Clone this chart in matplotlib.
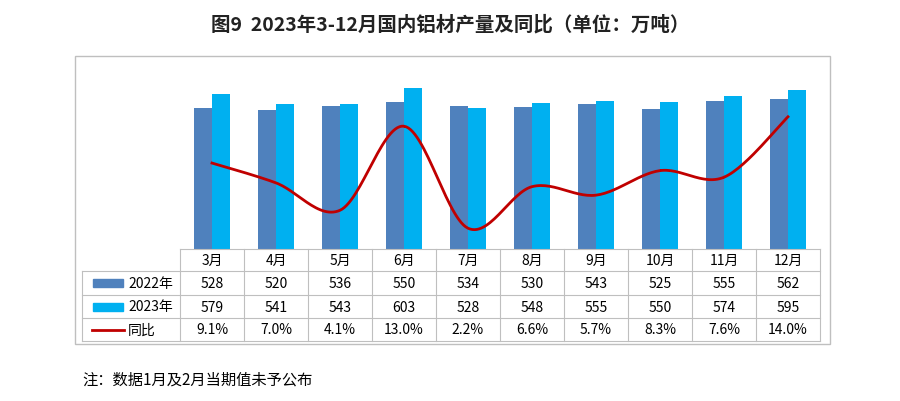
import matplotlib.pyplot as plt
import numpy as np
from matplotlib.lines import Line2D
from matplotlib.patches import Rectangle

plt.rcParams['font.family'] = 'Noto Sans CJK SC'

months = ['3月', '4月', '5月', '6月', '7月', '8月', '9月', '10月', '11月', '12月']
y2022 = [528, 520, 536, 550, 534, 530, 543, 525, 555, 562]
y2023 = [579, 541, 543, 603, 528, 548, 555, 550, 574, 595]
yoy = [9.1, 7.0, 4.1, 13.0, 2.2, 6.6, 5.7, 8.3, 7.6, 14.0]

c22 = '#4F81BD'
c23 = '#00B0F0'
cl = '#C00000'

W, H = 900, 402
fx = lambda px: px / W
fy = lambda py: 1 - py / H

fig = plt.figure(figsize=(9, 4.02), dpi=100)
fig.text(0.5, fy(25), '图9  2023年3-12月国内铝材产量及同比（单位：万吨）',
         ha='center', va='center', fontsize=14, fontweight='bold', color='#222222')
fig.add_artist(Rectangle((fx(75), fy(345)), fx(830) - fx(75), fy(57) - fy(345),
                         fill=False, edgecolor='#BFBFBF', lw=1, transform=fig.transFigure))
fig.text(fx(82), fy(380), '注：数据1月及2月当期值未予公布', ha='left', va='center', fontsize=11)

ax = fig.add_axes([fx(180), fy(250), fx(820) - fx(180), fy(63) - fy(250)])
x = np.arange(len(months))
bw = 0.28
ax.bar(x - bw / 2, y2022, bw, color=c22)
ax.bar(x + bw / 2, y2023, bw, color=c23)
ax.set_xlim(-0.5, 9.5)
ax.set_ylim(0, 700)
ax.axis('off')

ax2 = ax.twinx()
# smooth curve through points (Catmull-Rom)
p = np.column_stack([x, yoy]).astype(float)
pp = np.vstack([p[0], p, p[-1]])
xs, ys = [], []
t = np.linspace(0, 1, 30)
for i in range(1, len(pp) - 2):
    p0, p1, p2, p3 = pp[i - 1], pp[i], pp[i + 1], pp[i + 2]
    seg = 0.5 * ((2 * p1)[None] + np.outer(t, -p0 + p2) + np.outer(t ** 2, 2 * p0 - 5 * p1 + 4 * p2 - p3)
                 + np.outer(t ** 3, -p0 + 3 * p1 - 3 * p2 + p3))
    xs.extend(seg[:, 0]); ys.extend(seg[:, 1])
ax2.plot(xs, ys, color=cl, lw=2)
ax2.set_ylim(0, 19.8)
ax2.set_xlim(-0.5, 9.5)
ax2.axis('off')

# table
rows = [250, 272, 296, 319, 342]
gc = '#BFBFBF'
for r in rows[1:]:
    fig.add_artist(Line2D([fx(82), fx(820)], [fy(r), fy(r)], color=gc, lw=0.8))
fig.add_artist(Line2D([fx(180), fx(820)], [fy(250), fy(250)], color=gc, lw=0.8))
for i in range(11):
    xp = 180 + 64 * i
    fig.add_artist(Line2D([fx(xp), fx(xp)], [fy(250), fy(342)], color=gc, lw=0.8))
fig.add_artist(Line2D([fx(82), fx(82)], [fy(272), fy(342)], color=gc, lw=0.8))

for i in range(10):
    cx = fx(180 + 64 * i + 32)
    fig.text(cx, fy(261), months[i], ha='center', va='center', fontsize=10)
    fig.text(cx, fy(284), str(y2022[i]), ha='center', va='center', fontsize=10)
    fig.text(cx, fy(307.5), str(y2023[i]), ha='center', va='center', fontsize=10)
    fig.text(cx, fy(330.5), '%.1f%%' % yoy[i], ha='center', va='center', fontsize=10)

labels = ['2022年', '2023年', '同比']
mids = [284, 307.5, 330.5]
for lab, m, c, kind in zip(labels, mids, [c22, c23, cl], ['bar', 'bar', 'line']):
    if kind == 'bar':
        fig.add_artist(Rectangle((fx(93), fy(m + 4)), fx(30), fy(m - 4) - fy(m + 4),
                                 color=c, transform=fig.transFigure))
    else:
        fig.add_artist(Line2D([fx(92), fx(124)], [fy(m), fy(m)], color=c, lw=2))
    fig.text(fx(128), fy(m), lab, ha='left', va='center', fontsize=10)

fig.savefig('out.png', dpi=100)
